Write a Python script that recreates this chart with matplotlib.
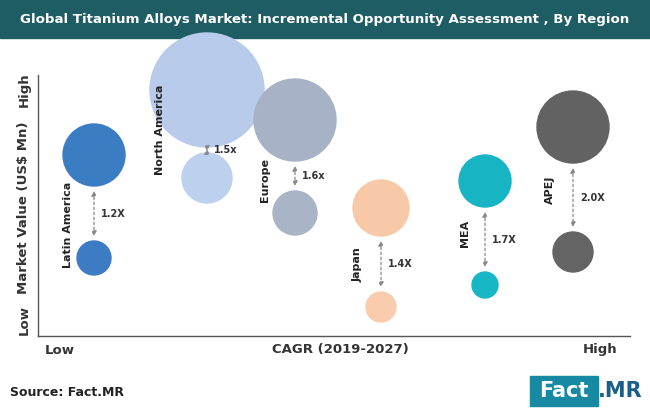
import matplotlib
matplotlib.use("Agg")
import matplotlib.pyplot as plt
from matplotlib.patches import Circle, Rectangle, FancyArrowPatch

regions = ["Latin America", "North America", "Europe", "Japan", "MEA", "APEJ"]
x_pos = [94, 207, 295, 381, 485, 573]
y_high = [155, 90, 120, 208, 181, 127]
y_low = [258, 178, 213, 307, 285, 252]
r_high = [31, 57, 41, 28, 26, 36]
r_low = [17, 25, 22, 15, 13, 20]
multipliers = ["1.2X", "1.5x", "1.6x", "1.4X", "1.7X", "2.0X"]
col_high = ["#3b7dc3", "#b8cbea", "#a7b2c6", "#f7c9a8", "#17b5c4", "#626262"]
col_low = ["#3d7cc4", "#bdd0ee", "#a9b4c7", "#f8ccac", "#18b7c6", "#646464"]
label_xy = [(68, 225), (160, 130), (265, 180), (358, 265), (465, 233), (550, 190)]

fig = plt.figure(figsize=(6.5, 4.12), dpi=100)
ax = fig.add_axes([0, 0, 1, 1])
ax.set_xlim(0, 650); ax.set_ylim(412, 0); ax.axis("off")

ax.add_patch(Rectangle((0, 0), 650, 38, color="#1f5d65"))
ax.text(325, 19, "Global Titanium Alloys Market: Incremental Opportunity Assessment , By Region",
        color="white", fontsize=9.6, fontweight="bold", ha="center", va="center")

ax.plot([38, 38], [75, 336], color="#555", lw=1)
ax.plot([38, 630], [336, 336], color="#555", lw=1)
ax.text(24, 90, "High", rotation=90, ha="center", va="center", fontsize=9.5, fontweight="bold", color="#333")
ax.text(24, 320, "Low", rotation=90, ha="center", va="center", fontsize=9.5, fontweight="bold", color="#333")
ax.text(24, 208, "Market Value (US$ Mn)", rotation=90, ha="center", va="center", fontsize=9.5, fontweight="bold", color="#333")
ax.text(60, 350, "Low", ha="center", va="center", fontsize=9.5, fontweight="bold", color="#333")
ax.text(600, 350, "High", ha="center", va="center", fontsize=9.5, fontweight="bold", color="#333")
ax.text(340, 350, "CAGR (2019-2027)", ha="center", va="center", fontsize=9.5, fontweight="bold", color="#333")

for i in range(len(regions)):
    ax.add_patch(Circle((x_pos[i], y_high[i]), r_high[i], color=col_high[i]))
    ax.add_patch(Circle((x_pos[i], y_low[i]), r_low[i], color=col_low[i]))
    a = FancyArrowPatch((x_pos[i], y_high[i] + r_high[i] + 2), (x_pos[i], y_low[i] - r_low[i] - 2),
                        arrowstyle="<|-|>", mutation_scale=7, color="#888", lw=0.9, linestyle=(0, (2, 2)))
    ax.add_patch(a)
    ax.text(x_pos[i] + 7, (y_high[i] + r_high[i] + y_low[i] - r_low[i]) / 2, multipliers[i],
            fontsize=7, fontweight="bold", color="#333", va="center")
    ax.text(label_xy[i][0], label_xy[i][1], regions[i], rotation=90, ha="center", va="center",
            fontsize=8, fontweight="bold", color="#222")

ax.text(10, 393, "Source: Fact.MR", fontsize=9, fontweight="bold", color="#222", va="center")
ax.add_patch(Rectangle((530, 376), 68, 30, color="#1789a3"))
ax.text(564, 391, "Fact", color="white", fontsize=15, fontweight="bold", ha="center", va="center")
ax.text(598, 391, ".MR", color="#1a5e8a", fontsize=15, fontweight="bold", ha="left", va="center")

fig.savefig("out.png", dpi=100)
